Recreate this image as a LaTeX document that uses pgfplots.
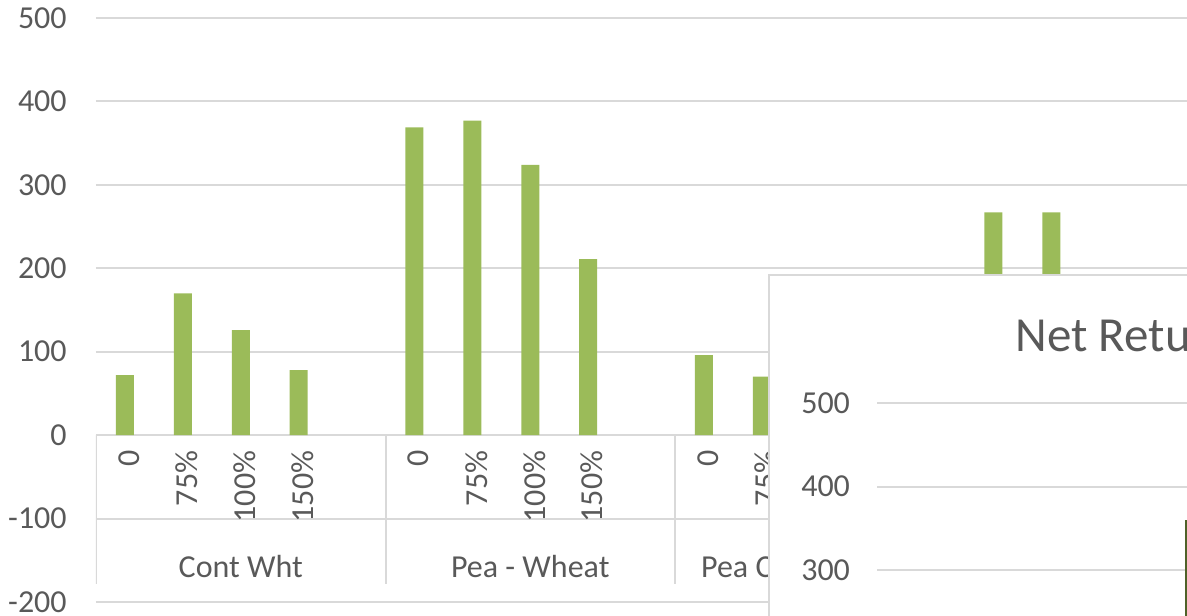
\documentclass[border=0pt]{standalone}
\usepackage{fontspec}
\setmainfont{Carlito}
\usepackage{pgfplots}
\pgfplotsset{compat=1.18}
\definecolor{bargreen}{HTML}{9BBB59}
\definecolor{darkgreen}{HTML}{4F6228}
\definecolor{gridgray}{HTML}{D9D9D9}
\definecolor{txt}{HTML}{595959}
\newcommand{\tkfont}{\fontsize{16}{19}\selectfont}
\begin{document}
\begin{tikzpicture}
\useasboundingbox (0,0) rectangle (593.5pt,307.5pt);
\clip (0,0) rectangle (593.5pt,307.5pt);
\begin{axis}[
  scale only axis, width=723.75pt, height=292pt,
  at={(48pt,6.5pt)}, anchor=south west,
  xmin=-0.5, xmax=24.5, ymin=-200, ymax=500,
  axis x line=middle, axis y line=left,
  x axis line style={draw=gridgray, line width=1pt, -},
  y axis line style={draw=none},
  ytick={-200,-100,...,500},
  ymajorgrids, grid style={gridgray, line width=1pt},
  tick style={draw=none},
  /pgf/number format/assume math mode=true,
  xtick={0,1,2,3,5,6,7,8,10,11,12,13,15,16,17,18},
  xticklabels={0,75\%,100\%,150\%,0,75\%,100\%,150\%,0,75\%,100\%,150\%,0,75\%,100\%,150\%},
  xticklabel style={rotate=90, anchor=east, font=\tkfont, text=txt, yshift=-2pt},
  yticklabel style={font=\tkfont, text=txt, xshift=-9pt},
  ybar, bar width=9pt,
]
\addplot[fill=bargreen, draw=none] coordinates {
  (0,72) (1,170) (2,126) (3,78)
  (5,369) (6,377) (7,324) (8,211)
  (10,96) (11,70) (12,60) (13,40)
  (15,267) (16,267) (17,150) (18,90)
};
\pgfplotsinvokeforeach{-0.5,4.5,9.5,14.5,19.5,24.5}{
  \draw[gridgray, line width=1pt] (axis cs:#1,0) -- (axis cs:#1,-179);
}
\node[text=txt, font=\tkfont] at (axis cs:2,-157) {Cont Wht};
\node[text=txt, font=\tkfont] at (axis cs:7,-157) {Pea - Wheat};
\node[text=txt, font=\tkfont] at (axis cs:12,-157) {Pea Canola Wheat};
\end{axis}
% overlapping chart window
\fill[white] (384.5pt,170pt) rectangle (700pt,-20pt);
\draw[gridgray, line width=1pt] (384.5pt,-20pt) -- (384.5pt,170pt) -- (700pt,170pt);
\begin{axis}[
  scale only axis, width=361.5pt, height=208.75pt,
  at={(438.5pt,-102.75pt)}, anchor=south west,
  xmin=0, xmax=10, ymin=0, ymax=500,
  axis line style={draw=none},
  xtick=\empty, ytick={0,100,...,500},
  ymajorgrids, grid style={gridgray, line width=1pt},
  tick style={draw=none},
  /pgf/number format/assume math mode=true,
  yticklabel style={font=\tkfont, text=txt, xshift=-10pt},
]
\addplot[ybar, bar width=9pt, fill=darkgreen, draw=none] coordinates {(4.385,360)};
\end{axis}
\node[anchor=base west, inner sep=0, text=txt, font=\fontsize{24.5}{29}\selectfont] at (507.5pt,131.5pt) {Net Returns};
\end{tikzpicture}
\end{document}
